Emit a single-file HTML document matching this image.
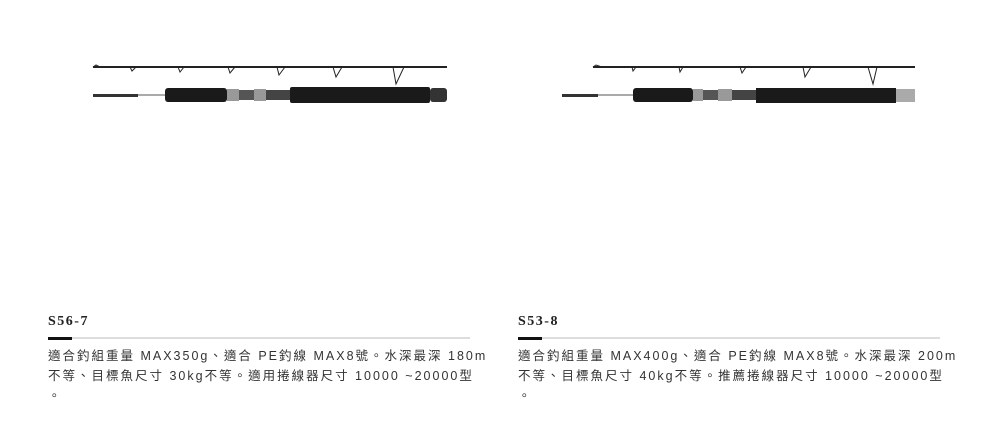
<!DOCTYPE html>
<html><head><meta charset="utf-8"><style>
body{margin:0;width:1005px;height:423px;background:#fff;position:relative;overflow:hidden;font-family:"Liberation Sans","Noto Sans CJK TC",sans-serif;color:#333}
.t{position:absolute;font-family:"Liberation Serif",serif;font-weight:bold;font-size:14px;letter-spacing:1.5px;color:#222}
.bar{position:absolute;height:2px;background:#ddd}
.bar i{position:absolute;left:0;top:-0.5px;width:24px;height:3px;background:#111}
.d{position:absolute;font-size:12.5px;letter-spacing:2.0px;line-height:20px;white-space:nowrap;color:#333}
</style></head><body>
<svg width="1005" height="130" style="position:absolute;left:0;top:0">
<g stroke="#222" fill="none">
<line x1="93" y1="67" x2="447" y2="67" stroke-width="2"/>
<path d="M93 67 l3 -2 l4 2" /><path d="M130 67 l2 4 l4 -4"/><path d="M178 67 l2 5 l4 -5"/><path d="M228 67 l2 6 l5 -6"/><path d="M277 67 l2 8 l6 -8"/><path d="M333 67 l3 10 l6 -10"/><path d="M393 67 l3 17 l8 -17"/>
<line x1="593" y1="67" x2="915" y2="67" stroke-width="2"/>
<path d="M593 67 l3 -2 l6 2"/><path d="M632 67 l1 4 l3 -4"/><path d="M679 67 l1 5 l3 -5"/><path d="M740 67 l2 6 l4 -6"/><path d="M803 67 l2 10 l6 -10"/><path d="M868 67 l5 17 l4 -17"/>
</g>
<rect x="93" y="94" width="45" height="3" fill="#333"/><rect x="138" y="94" width="27" height="2" fill="#aaa"/>
<rect x="165" y="88" width="62" height="14" rx="3" fill="#1a1a1a"/>
<rect x="227" y="89" width="12" height="12" fill="#999"/><rect x="239" y="90" width="15" height="10" fill="#555"/><rect x="254" y="89" width="12" height="12" fill="#999"/><rect x="266" y="90" width="24" height="10" fill="#444"/>
<rect x="290" y="87" width="140" height="16" rx="2" fill="#1a1a1a"/><rect x="430" y="88" width="17" height="14" rx="3" fill="#333"/>
<rect x="562" y="94" width="36" height="3" fill="#333"/><rect x="598" y="94" width="35" height="2" fill="#aaa"/>
<rect x="633" y="88" width="60" height="14" rx="3" fill="#1a1a1a"/>
<rect x="693" y="89" width="10" height="12" fill="#999"/><rect x="703" y="90" width="15" height="10" fill="#555"/><rect x="718" y="89" width="14" height="12" fill="#999"/><rect x="732" y="90" width="24" height="10" fill="#444"/>
<rect x="756" y="88" width="140" height="15" fill="#1a1a1a"/><rect x="896" y="89" width="19" height="13" fill="#aaa"/>
</svg>
<div class="t" style="left:48px;top:314px">S56-7</div>
<div class="bar" style="left:48px;top:337px;width:422px"><i></i></div>
<div class="d" style="left:48px;top:346px">適合釣組重量 MAX350g、適合 PE釣線 MAX8號。水深最深 180m<br>不等、目標魚尺寸 30kg不等。適用捲線器尺寸 10000 ~20000型<br>。</div>
<div class="t" style="left:518px;top:314px">S53-8</div>
<div class="bar" style="left:518px;top:337px;width:422px"><i></i></div>
<div class="d" style="left:518px;top:346px">適合釣組重量 MAX400g、適合 PE釣線 MAX8號。水深最深 200m<br>不等、目標魚尺寸 40kg不等。推薦捲線器尺寸 10000 ~20000型<br>。</div>
</body></html>
